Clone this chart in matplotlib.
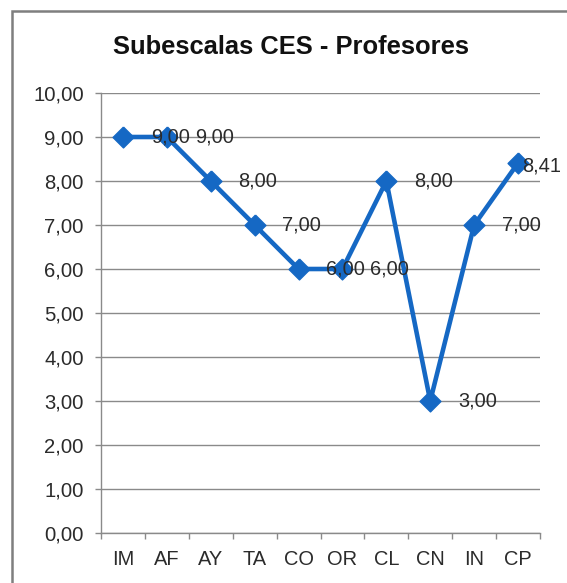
import matplotlib
matplotlib.use('Agg')
import matplotlib.pyplot as plt
from matplotlib.patches import Rectangle
from matplotlib.ticker import FixedLocator, FuncFormatter

# Données du graphique
categories = ['IM', 'AF', 'AY', 'TA', 'CO', 'OR', 'CL', 'CN', 'IN', 'CP']
valeurs = [9.00, 9.00, 8.00, 7.00, 6.00, 6.00, 8.00, 3.00, 7.00, 8.41]
titre = 'Subescalas CES - Profesores'

plt.rcParams['font.family'] = ['Liberation Sans', 'DejaVu Sans']

W, H = 567, 583
fig = plt.figure(figsize=(W / 100, H / 100), dpi=100)

# cadre du graphique (coupé à droite et en bas comme dans l'original)
fig.patches.append(Rectangle((12 / W, -0.05), 1.0, 1 - 11 / H + 0.05,
                             transform=fig.transFigure, fill=False,
                             edgecolor='#7f7f7f', linewidth=1.8))

ax = fig.add_axes([101 / W, 1 - 533 / H, (540 - 101) / W, (533 - 93) / H])

x = list(range(len(categories)))
couleur = '#1568c4'
diamant = [(0, 1), (1, 0), (0, -1), (-1, 0), (0, 1)]
ax.plot(x, valeurs, color=couleur, linewidth=3.3, marker=diamant,
        markersize=15, markerfacecolor=couleur, markeredgecolor=couleur,
        zorder=3, clip_on=False)

for i, v in enumerate(valeurs):
    label = f'{v:.2f}'.replace('.', ',')
    # la dernière étiquette est repoussée contre le bord, comme dans Excel
    dx = 20 if i < len(valeurs) - 1 else 3
    dy = 0 if i < len(valeurs) - 1 else -2
    ax.annotate(label, (i, v), xytext=(dx, dy), textcoords='offset points',
                ha='left', va='center', fontsize=14.4, color='#2b2b2b', zorder=4)

ax.set_xlim(-0.5, len(categories) - 0.5)
ax.set_ylim(0, 10)
ax.set_yticks([i for i in range(11)])
ax.yaxis.set_major_formatter(FuncFormatter(lambda v, p: f'{v:.2f}'.replace('.', ',')))
ax.yaxis.grid(True, color='#8a8a8a', linewidth=1.0)
ax.set_axisbelow(True)

ax.set_xticks(x)
ax.set_xticklabels(categories)
ax.xaxis.set_minor_locator(FixedLocator([i - 0.5 for i in range(len(categories) + 1)]))
ax.tick_params(axis='x', which='major', length=0, pad=12, labelsize=14.4, labelcolor='#2b2b2b')
ax.tick_params(axis='x', which='minor', length=4.5, width=1, color='#8a8a8a', direction='out')
ax.tick_params(axis='y', length=4.5, width=1, color='#8a8a8a', pad=8,
               labelsize=14.6, labelcolor='#2b2b2b')

for s in ['top', 'right']:
    ax.spines[s].set_visible(False)
for s in ['left', 'bottom']:
    ax.spines[s].set_color('#8a8a8a')
    ax.spines[s].set_linewidth(1.0)

fig.text(291 / W, 1 - 47 / H, titre, ha='center', va='center',
         fontsize=18.4, fontweight='bold', color='#111111')

fig.savefig('out.png', dpi=100)
